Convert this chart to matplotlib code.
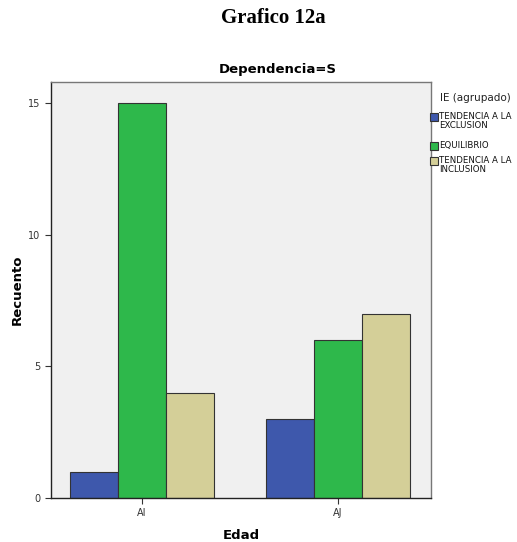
import numpy as np
import matplotlib.pyplot as plt
from matplotlib.patches import Rectangle

categories = ['AI', 'AJ']
series_names = ['TENDENCIA A LA\nEXCLUSION', 'EQUILIBRIO', 'TENDENCIA A LA\nINCLUSION']
series_values = [
    [1, 3],
    [15, 6],
    [4, 7],
]
colors = ['#3e58ac', '#2eb84b', '#d4cf98']

W, H = 517, 542
fig = plt.figure(figsize=(W / 100, H / 100), dpi=100)
ax = fig.add_axes([51 / W, 1 - 498 / H, 380 / W, 416 / H])
ax.set_facecolor('#f0f0f0')

x = np.arange(len(categories))
barWidth = 0.245
for i, vals in enumerate(series_values):
    ax.bar(x + (i - 1) * barWidth, vals, barWidth, color=colors[i],
           edgecolor='#333333', linewidth=0.8)

ax.set_xlim(-0.464, 1.474)
ax.set_ylim(0, 15.8)
ax.set_yticks([0, 5, 10, 15])
ax.set_xticks(x)
ax.set_xticklabels(categories)
ax.tick_params(labelsize=7, colors='#333333', length=4)
for s in ax.spines.values():
    s.set_color('#777777')
    s.set_linewidth(1.0)
ax.spines['bottom'].set_color('#222222')
ax.spines['left'].set_color('#222222')

ax.set_xlabel('Edad', fontsize=9.5, fontweight='bold')
ax.set_ylabel('Recuento', fontsize=9.5, fontweight='bold')
ax.xaxis.set_label_coords(0.5, (498 - 529) / 416)
ax.yaxis.set_label_coords((24 - 51) / 380, 0.5)

fig.text(273 / W, 1 - 18 / H, 'Grafico 12a', ha='center', va='center',
         fontsize=15, fontweight='bold', family='Liberation Serif')
fig.text(278 / W, 1 - 70 / H, 'Dependencia=S', ha='center', va='center',
         fontsize=9.5, fontweight='bold')

# legend drawn by hand (squares aligned with first text line, like SPSS)
fig.text(440 / W, 1 - 98 / H, 'IE (agrupado)', ha='left', va='center',
         fontsize=7.5, color='#222222')
entry_tops = [112, 141, 156]
for c, name, top in zip(colors, series_names, entry_tops):
    fig.patches.append(Rectangle((430 / W, 1 - (top + 9) / H), 8 / W, 8 / H,
                                 facecolor=c, edgecolor='#333333', linewidth=0.8,
                                 transform=fig.transFigure, figure=fig))
    fig.text(439 / W, 1 - top / H, name, ha='left', va='top',
             fontsize=6.2, linespacing=1.05, color='#111111')

fig.savefig('out.png', dpi=100)
